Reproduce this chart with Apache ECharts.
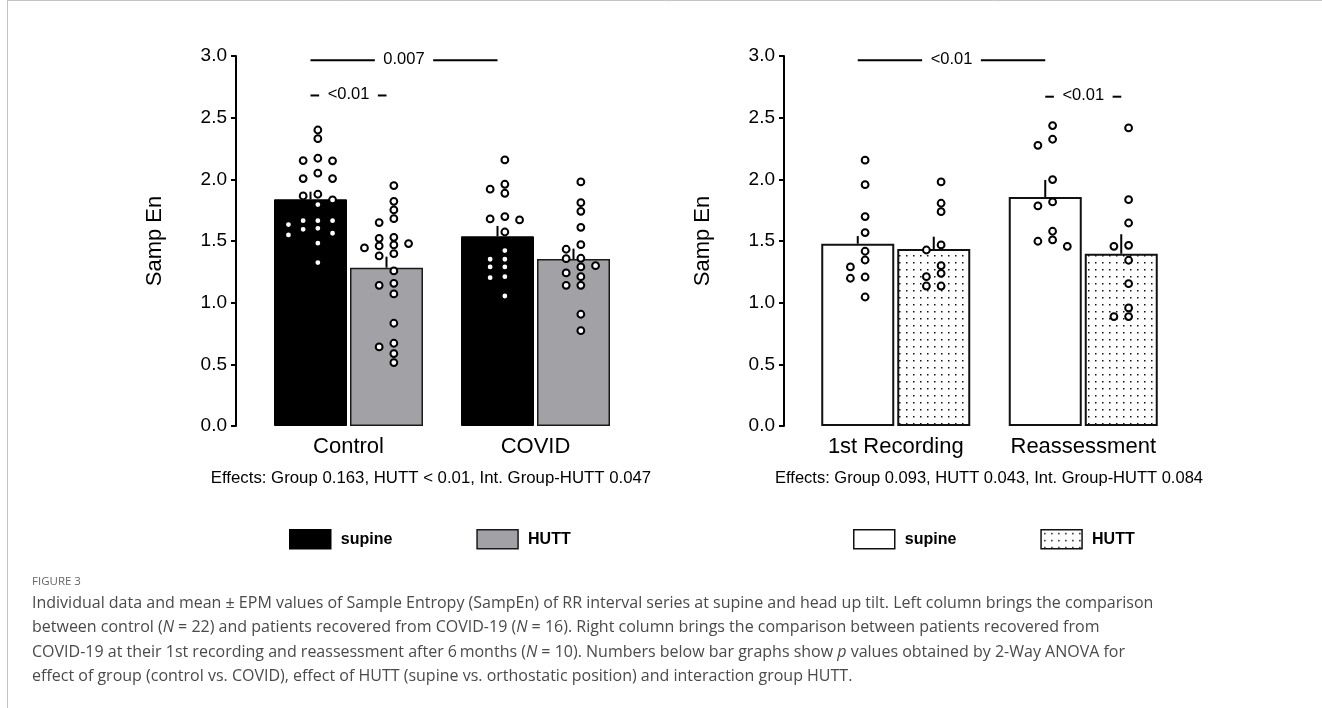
<!DOCTYPE html>
<html><head><meta charset="utf-8">
<script src="https://cdn.jsdelivr.net/npm/echarts@6/dist/echarts.min.js"></script>
<style>html,body{margin:0;padding:0;background:#fff}#c{width:1322px;height:708px}</style>
</head><body><div id="c"></div>
<script>
// ---------------- DATA ----------------
const leftCategories = ['Control', 'COVID'];
const rightCategories = ['1st Recording', 'Reassessment'];
const yMin = 0, yMax = 3, yInterval = 0.5;

const leftSupineMean = [1.838, 1.538];
const leftSupineSem  = [0.062, 0.084];
const leftHuttMean   = [1.284, 1.354];
const leftHuttSem    = [0.089, 0.084];
const rightSupineMean = [1.478, 1.857];
const rightSupineSem  = [0.062, 0.138];
const rightHuttMean   = [1.435, 1.397];
const rightHuttSem    = [0.100, 0.158];

const controlSupine = [2.40, 2.33, 2.171, 2.152, 2.15, 2.05, 2.006, 2.006, 1.879, 1.865, 1.833, 1.795, 1.665, 1.665, 1.665, 1.633, 1.603, 1.595, 1.563, 1.549, 1.482, 1.325];
const controlHutt   = [1.949, 1.822, 1.752, 1.681, 1.649, 1.530, 1.522, 1.479, 1.468, 1.460, 1.444, 1.397, 1.379, 1.257, 1.157, 1.141, 1.071, 0.833, 0.671, 0.641, 0.587, 0.514];
const covidSupine   = [2.157, 1.960, 1.920, 1.887, 1.698, 1.679, 1.671, 1.573, 1.422, 1.352, 1.352, 1.290, 1.290, 1.211, 1.203, 1.054];
const covidHutt     = [1.979, 1.811, 1.741, 1.611, 1.470, 1.433, 1.360, 1.357, 1.300, 1.290, 1.241, 1.211, 1.141, 1.141, 0.906, 0.773];
const firstSupine   = [2.155, 1.957, 1.698, 1.568, 1.417, 1.346, 1.290, 1.208, 1.198, 1.046];
const firstHutt     = [1.979, 1.806, 1.738, 1.468, 1.427, 1.300, 1.238, 1.211, 1.135, 1.135];
const reassSupine   = [2.436, 2.325, 2.276, 1.998, 1.817, 1.784, 1.579, 1.509, 1.498, 1.457];
const reassHutt     = [2.417, 1.835, 1.646, 1.465, 1.457, 1.344, 1.154, 0.957, 0.887, 0.887];

// brackets: [catA, barA(-1 supine / +1 HUTT), catB, barB, level]
const leftBracketLabels = ['0.007', '<0.01'];
const leftBrackets = [[0, -1, 1, -1, 2.965], [0, -1, 0, 1, 2.68]];
const rightBracketLabels = ['<0.01', '<0.01'];
const rightBrackets = [[0, -1, 1, -1, 2.965], [1, -1, 1, 1, 2.67]];

const leftEffects = 'Effects: Group 0.163, HUTT < 0.01, Int. Group-HUTT 0.047';
const rightEffects = 'Effects: Group 0.093, HUTT 0.043, Int. Group-HUTT 0.084';
const seriesNames = ['supine', 'HUTT'];
const yName = 'Samp En';

const captionTitle = 'FIGURE 3';
const captionLines = [
  'Individual data and mean ± EPM values of Sample Entropy (SampEn) of RR interval series at supine and head up tilt. Left column brings the comparison',
  'between control ({i|N} = 22) and patients recovered from COVID-19 ({i|N} = 16). Right column brings the comparison between patients recovered from',
  'COVID-19 at their 1st recording and reassessment after 6\u2009months ({i|N} = 10). Numbers below bar graphs show {i|p} values obtained by 2-Way ANOVA for',
  'effect of group (control vs. COVID), effect of HUTT (supine vs. orthostatic position) and interaction group HUTT.'
];

// ---------------- LAYOUT / STYLE ----------------
const FONT = '"Liberation Sans", Arial, Helvetica, sans-serif';
const CAP_FONT = '"Open Sans", sans-serif';
const GRID_TOP = 56, GRID_H = 370;
const BAR_W = 73, BAR_GAP = 3;
const HALF = (BAR_W + BAR_GAP) / 2;
const PX_PER_UNIT = GRID_H / (yMax - yMin);
const COL_SP = 14.7;

function dotPattern() {
  const c = document.createElement('canvas');
  c.width = 7; c.height = 7;
  const g = c.getContext('2d');
  g.fillStyle = '#fff'; g.fillRect(0, 0, 7, 7);
  g.fillStyle = '#111'; g.fillRect(3, 3, 1.5, 1.5);
  return c;
}
const dots = { image: dotPattern(), repeat: 'repeat' };

function swarm(values) {
  const slots = [0.5, -0.5, 1.5, -1.5, 2.5, -2.5, 3.5, -3.5];
  const placed = [];
  return values.map(v => {
    for (const s of slots) {
      if (!placed.some(p => p.s === s && Math.abs(p.v - v) * PX_PER_UNIT < 7.5)) {
        placed.push({ v, s });
        return s * COL_SP;
      }
    }
    return 0;
  });
}
function scatterData(groups) {
  const out = [];
  groups.forEach(([cat, side, vals]) => {
    const jit = swarm(vals);
    vals.forEach((v, k) => out.push({ value: [cat, v], symbolOffset: [side * HALF + jit[k], 0] }));
  });
  return out;
}
function errData(supM, supS, hutM, hutS) {
  const d = [];
  supM.forEach((m, i) => d.push([i, m, supS[i], -1]));
  hutM.forEach((m, i) => d.push([i, m, hutS[i], 1]));
  return d;
}
const measureCtx = document.createElement('canvas').getContext('2d');
function textW(t, font) { measureCtx.font = font; return measureCtx.measureText(t).width; }

function errSeries(idx, data) {
  return {
    type: 'custom', xAxisIndex: idx, yAxisIndex: idx, z: 3, silent: true,
    encode: { x: 0, y: 1 },
    data,
    renderItem(params, api) {
      const p0 = api.coord([api.value(0), api.value(1)]);
      const p1 = api.coord([api.value(0), api.value(1) + api.value(2)]);
      const x = p0[0] + api.value(3) * HALF;
      return { type: 'line', shape: { x1: x, y1: p0[1], x2: x, y2: p1[1] }, style: { stroke: '#000', lineWidth: 2 } };
    }
  };
}
function bracketSeries(idx, data, labels) {
  const font = '16.5px ' + FONT;
  return {
    type: 'custom', xAxisIndex: idx, yAxisIndex: idx, z: 5, silent: true, clip: false,
    encode: { x: 0, y: 4 },
    data,
    renderItem(params, api) {
      const a = api.coord([api.value(0), api.value(4)]);
      const b = api.coord([api.value(2), api.value(4)]);
      const xA = a[0] + api.value(1) * HALF, xB = b[0] + api.value(3) * HALF, y = a[1];
      const label = labels[params.dataIndex];
      const w = textW(label, font), cx = (xA + xB) / 2, pad = 8.5;
      return { type: 'group', children: [
        { type: 'line', shape: { x1: xA, y1: y, x2: cx - w / 2 - pad, y2: y }, style: { stroke: '#000', lineWidth: 2 } },
        { type: 'line', shape: { x1: cx + w / 2 + pad, y1: y, x2: xB, y2: y }, style: { stroke: '#000', lineWidth: 2 } },
        { type: 'text', style: { text: label, x: cx, y: y - 1, align: 'center', verticalAlign: 'middle', font, fill: '#000' } }
      ]};
    }
  };
}
function scatterSeries(idx, data) {
  return {
    type: 'scatter', xAxisIndex: idx, yAxisIndex: idx, z: 4, silent: true,
    symbol: 'circle', symbolSize: 6.8,
    itemStyle: { color: '#fff', borderColor: '#000', borderWidth: 2, opacity: 1 },
    data
  };
}
function yAxis(idx, offset) {
  return {
    type: 'value', gridIndex: idx, min: yMin, max: yMax, interval: yInterval, offset,
    name: yName, nameLocation: 'middle', nameRotate: 90, nameGap: 70,
    nameTextStyle: { fontSize: 22, fontFamily: FONT, color: '#000' },
    axisLine: { show: true, lineStyle: { color: '#000', width: 2 } },
    axisTick: { show: true, length: 5, lineStyle: { color: '#000', width: 2 } },
    axisLabel: { fontSize: 19, fontFamily: FONT, color: '#000', margin: 9, formatter: v => v.toFixed(1) },
    splitLine: { show: false }
  };
}
function xAxis(idx, cats) {
  return {
    type: 'category', gridIndex: idx, data: cats,
    axisLine: { show: false }, axisTick: { show: false },
    axisLabel: { interval: 0, hideOverlap: false, fontSize: 22, fontFamily: FONT, color: '#000', margin: 10 }
  };
}
const legendText = { fontWeight: 'bold', fontSize: 16, fontFamily: FONT, color: '#000', padding: [0, 0, 0, 5] };

const chart = echarts.init(document.getElementById('c'), null, { renderer: 'canvas' });
chart.setOption({
  animation: false,
  backgroundColor: '#fff',
  grid: [
    { left: 255, top: GRID_TOP, width: 374, height: GRID_H },
    { left: 802, top: GRID_TOP, width: 375, height: GRID_H }
  ],
  xAxis: [xAxis(0, leftCategories), xAxis(1, rightCategories)],
  yAxis: [yAxis(0, 19), yAxis(1, 18)],
  legend: [
    { left: 284, top: 524, itemWidth: 41, itemHeight: 19, itemGap: 84, icon: 'rect', selectedMode: false, textStyle: legendText,
      data: [
        { name: seriesNames[0], itemStyle: { color: '#000', borderColor: '#000', borderWidth: 1.5 } },
        { name: seriesNames[1], itemStyle: { color: '#a2a2a6', borderColor: '#1a1a1a', borderWidth: 1.5 } }
      ] },
    { left: 848, top: 524, itemWidth: 41, itemHeight: 19, itemGap: 84, icon: 'rect', selectedMode: false, textStyle: legendText,
      data: [
        { name: seriesNames[0], itemStyle: { color: '#fff', borderColor: '#111', borderWidth: 1.5 } },
        { name: seriesNames[1], itemStyle: { color: dots, borderColor: '#111', borderWidth: 1.5 } }
      ] }
  ],
  series: [
    { name: seriesNames[0], type: 'bar', xAxisIndex: 0, yAxisIndex: 0, barWidth: BAR_W, barGap: (BAR_GAP / BAR_W * 100) + '%', z: 2, silent: true,
      itemStyle: { color: '#000', borderColor: '#000', borderWidth: 1 }, data: leftSupineMean },
    { name: seriesNames[1], type: 'bar', xAxisIndex: 0, yAxisIndex: 0, barWidth: BAR_W, barGap: (BAR_GAP / BAR_W * 100) + '%', z: 2, silent: true,
      itemStyle: { color: '#a2a2a6', borderColor: '#1a1a1a', borderWidth: 1.5 }, data: leftHuttMean },
    { name: seriesNames[0], type: 'bar', xAxisIndex: 1, yAxisIndex: 1, barWidth: BAR_W, barGap: (BAR_GAP / BAR_W * 100) + '%', z: 2, silent: true,
      itemStyle: { color: '#fff', borderColor: '#111', borderWidth: 2 }, data: rightSupineMean },
    { name: seriesNames[1], type: 'bar', xAxisIndex: 1, yAxisIndex: 1, barWidth: BAR_W, barGap: (BAR_GAP / BAR_W * 100) + '%', z: 2, silent: true,
      itemStyle: { color: dots, borderColor: '#111', borderWidth: 2 }, data: rightHuttMean },
    errSeries(0, errData(leftSupineMean, leftSupineSem, leftHuttMean, leftHuttSem)),
    errSeries(1, errData(rightSupineMean, rightSupineSem, rightHuttMean, rightHuttSem)),
    scatterSeries(0, scatterData([[0, -1, controlSupine], [0, 1, controlHutt], [1, -1, covidSupine], [1, 1, covidHutt]])),
    scatterSeries(1, scatterData([[0, -1, firstSupine], [0, 1, firstHutt], [1, -1, reassSupine], [1, 1, reassHutt]])),
    bracketSeries(0, leftBrackets, leftBracketLabels),
    bracketSeries(1, rightBrackets, rightBracketLabels)
  ],
  graphic: [
    { type: 'line', silent: true, shape: { x1: 7.5, y1: 0, x2: 7.5, y2: 708 }, style: { stroke: '#c4c4c4', lineWidth: 1 } },
    { type: 'line', silent: true, shape: { x1: 7.5, y1: 0.5, x2: 1322, y2: 0.5 }, style: { stroke: '#c4c4c4', lineWidth: 1 } },
    { type: 'text', silent: true, x: 431, y: 478, style: { text: leftEffects, fontSize: 16.8, fontFamily: FONT, fill: '#000', align: 'center', verticalAlign: 'middle' } },
    { type: 'text', silent: true, x: 989, y: 478, style: { text: rightEffects, fontSize: 16.5, fontFamily: FONT, fill: '#000', align: 'center', verticalAlign: 'middle' } },
    { type: 'text', silent: true, x: 32, y: 582, style: { text: captionTitle, fontSize: 11.5, fontFamily: CAP_FONT, fill: '#666', align: 'left', verticalAlign: 'middle' } }
  ].concat(captionLines.map((t, i) => ({
    type: 'text', silent: true, x: 32, y: 603 + i * 24.6,
    style: {
      text: t, fontSize: 16, fontFamily: CAP_FONT, fill: '#4a4a4a', align: 'left', verticalAlign: 'middle',
      rich: { i: { fontStyle: 'italic', fontSize: 16, fontFamily: CAP_FONT, fill: '#4a4a4a' } }
    }
  })))
});
</script>
</body></html>
